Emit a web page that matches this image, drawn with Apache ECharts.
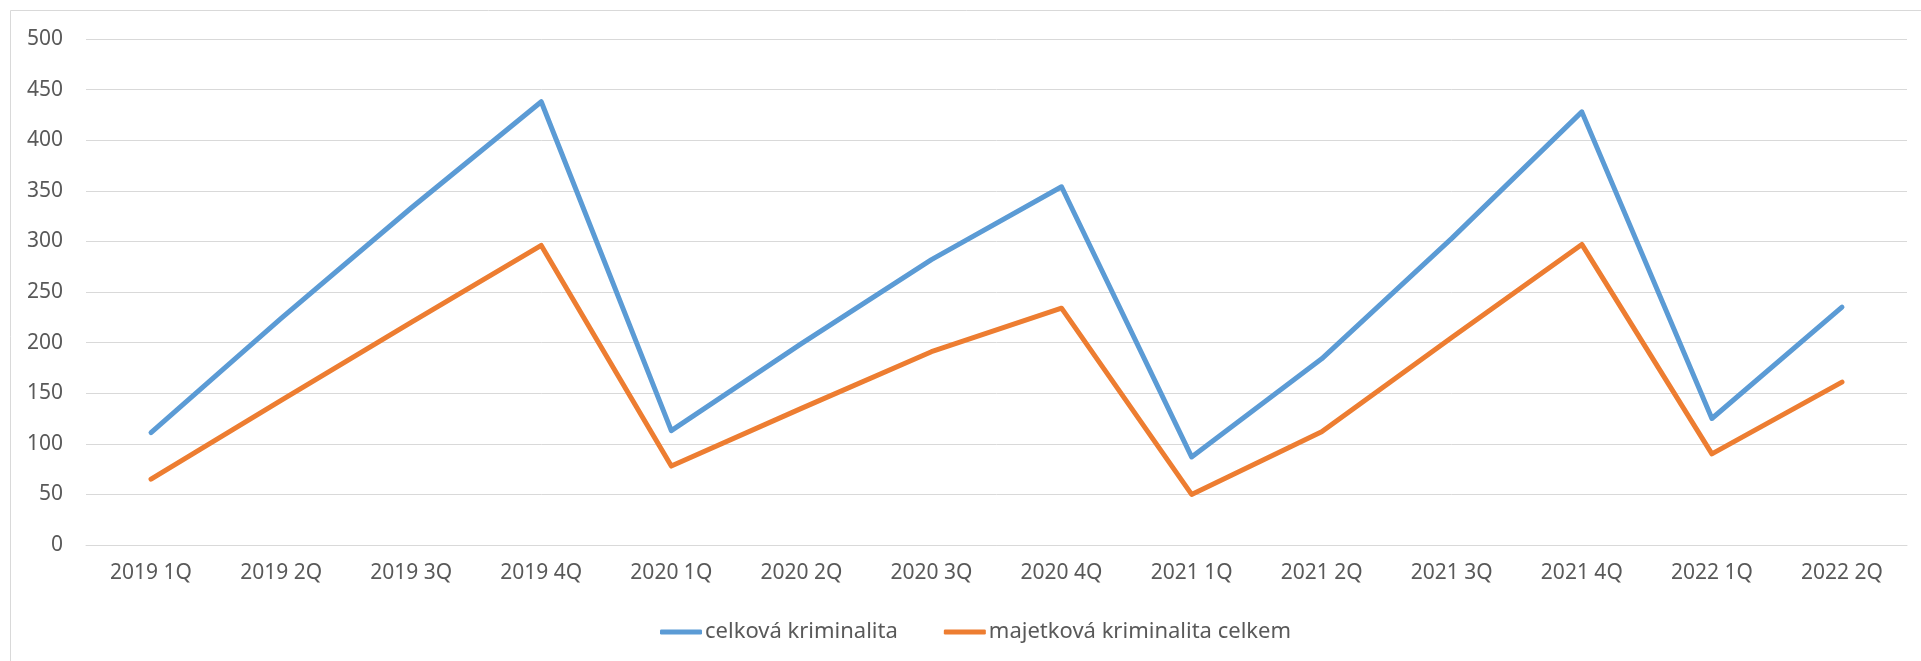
<!DOCTYPE html>
<html>
<head>
<meta charset="utf-8">
<script src="https://cdn.jsdelivr.net/npm/echarts@6/dist/echarts.min.js"></script>
<style>
html,body{margin:0;padding:0;background:#fff;}
#chart{width:1921px;height:661px;}
</style>
</head>
<body>
<div id="chart"></div>
<script>
const categories = ['2019 1Q','2019 2Q','2019 3Q','2019 4Q','2020 1Q','2020 2Q','2020 3Q','2020 4Q','2021 1Q','2021 2Q','2021 3Q','2021 4Q','2022 1Q','2022 2Q'];
const seriesNames = ['celková kriminalita','majetková kriminalita celkem'];
const celkova = [111, 224, 333, 438, 113, 199, 282, 354, 87, 184, 303, 428, 125, 235];
const majetkova = [65, 143, 220, 296, 78, 135, 191, 234, 50, 112, 205, 297, 90, 161];
const yTicks = {min: 0, max: 500, interval: 50};

const chart = echarts.init(document.getElementById('chart'), null, {renderer: 'canvas'});
const font = "'Noto Sans', sans-serif";
const txt = '#595959';
chart.setOption({
  animation: false,
  backgroundColor: '#ffffff',
  graphic: [{
    type: 'rect',
    shape: {x: 10.5, y: 10.5, width: 1930, height: 700},
    style: {fill: 'none', stroke: '#d9d9d9', lineWidth: 1},
    silent: true
  }],
  grid: {left: 86, right: 14, top: 39, bottom: 116, containLabel: false},
  legend: {
    left: 655, top: 629 - 13,
    itemWidth: 42, itemHeight: 5, itemGap: 46,
    icon: 'roundRect',
    textStyle: {fontFamily: font, fontSize: 22, color: txt, padding: [0,0,0,-2]},
    data: seriesNames
  },
  xAxis: {
    type: 'category',
    data: categories,
    boundaryGap: true,
    axisLine: {show: true, lineStyle: {color: '#d9d9d9', width: 1}},
    axisTick: {show: false},
    axisLabel: {fontFamily: font, fontSize: 21, color: txt, margin: 18, interval: 0}
  },
  yAxis: {
    type: 'value',
    min: yTicks.min, max: yTicks.max, interval: yTicks.interval,
    axisLine: {show: false},
    axisTick: {show: false},
    axisLabel: {fontFamily: font, fontSize: 21, color: txt, margin: 23},
    splitLine: {lineStyle: {color: '#d9d9d9', width: 1}}
  },
  series: [
    {
      name: seriesNames[0], type: 'line', data: celkova,
      symbol: 'none', smooth: false,
      color: '#5b9bd5',
      lineStyle: {width: 5, color: '#5b9bd5', cap: 'round', join: 'round'}
    },
    {
      name: seriesNames[1], type: 'line', data: majetkova,
      symbol: 'none', smooth: false,
      color: '#ed7d31',
      lineStyle: {width: 5, color: '#ed7d31', cap: 'round', join: 'round'}
    }
  ]
});
</script>
</body>
</html>
